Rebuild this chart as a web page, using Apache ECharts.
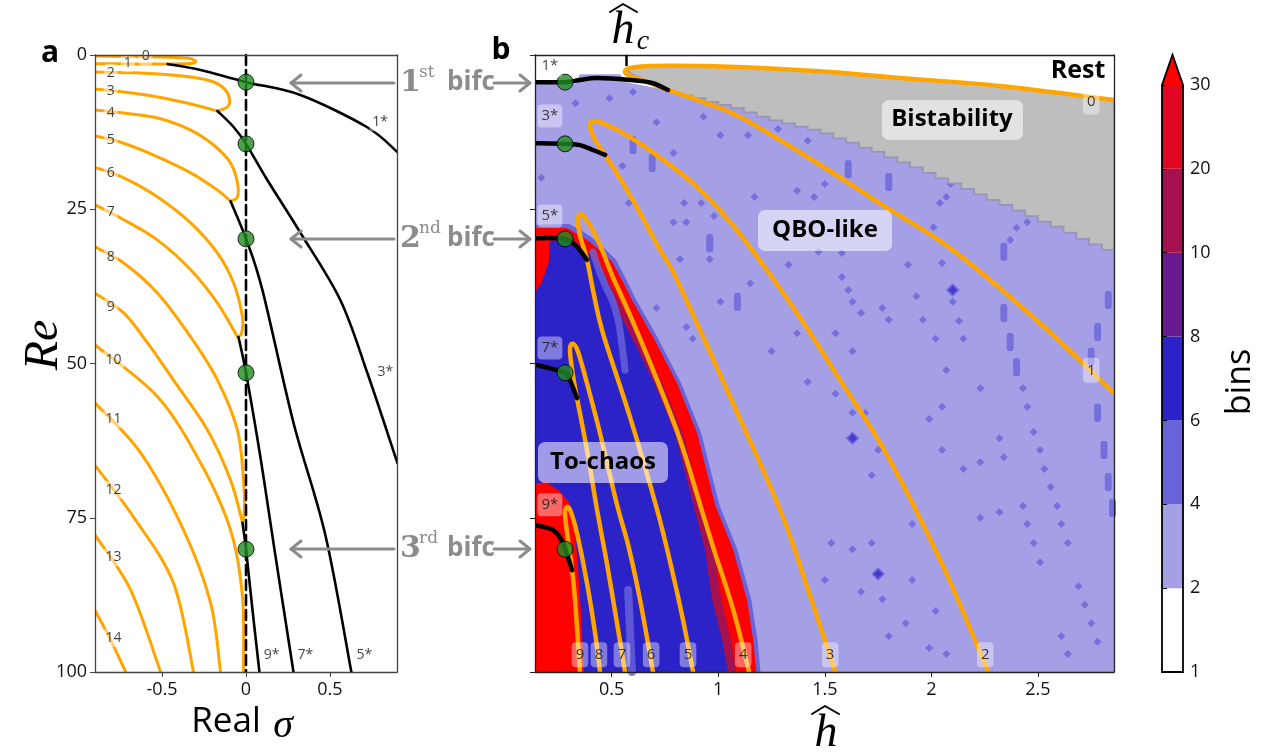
<!DOCTYPE html>
<html><head><meta charset="utf-8">
<script src="https://cdn.jsdelivr.net/npm/echarts@6/dist/echarts.min.js"></script>
<style>html,body{margin:0;padding:0;background:#fff}#c{width:1273px;height:754px}</style>
</head><body><div id="c"></div>
<script>
// ---------- ticks / levels ----------
const sigmaTicks = [-0.5, 0, 0.5];
const reTicks = [0, 25, 50, 75, 100];
const hTicks = [0.5, 1, 1.5, 2, 2.5];
const hCrit = 0.567;
const binLevels = ['1', '2', '4', '6', '8', '10', '20', '30'];
const binColors = ['#ffffff', '#a59fe6', '#6a64d9', '#2b22c8', '#681a90', '#a5114e', '#e00521'];
const binOver = '#ff0000';

// ---------- bifurcation points ----------
const bifRe = [4.4, 14.4, 29.8, 51.5, 80.1];
const bifH = 0.281;

// ---------- panel a : orange branches (Real sigma, Re) ----------
const aOrange0 = [[-0.9,0.16],[-0.568,0.32],[-0.36,0.49],[-0.312,0.81],[-0.301,1.13],[-0.33,1.38],[-0.467,1.46]];
const aOrange1 = [[-0.9,1.40],[-0.688,1.44],[-0.467,1.46]];
const aOrange2 = [[-0.9,2.76],[-0.628,2.92],[-0.33,3.57],[-0.193,4.38],[-0.122,5.67],[-0.098,7.29],[-0.11,8.43],[-0.17,9.08]];
const aOrange3 = [[-0.9,5.51],[-0.729,6.0],[-0.527,6.81],[-0.33,7.94],[-0.17,9.08]];
const aOrange4 = [[-0.9,8.91],[-0.729,9.40],[-0.527,10.21],[-0.33,12.16],[-0.193,14.59],[-0.092,17.5],[-0.051,20.7],[-0.051,23.0],[-0.092,23.7]];
const aOrange5 = [[-0.9,13.1],[-0.729,14.3],[-0.527,16.5],[-0.33,19.1],[-0.17,21.9],[-0.092,23.7]];
const aOrange6 = [[-0.9,18.2],[-0.729,19.9],[-0.527,23.0],[-0.33,27.2],[-0.17,32.1],[-0.074,36.95],[-0.021,42.5],[-0.027,45.1],[-0.051,45.7]];
const aOrange7 = [[-0.9,24.3],[-0.729,26.7],[-0.527,30.0],[-0.33,34.8],[-0.17,40.2],[-0.051,45.7]];
const aOrange8 = [[-0.9,31.1],[-0.729,33.7],[-0.527,38.6],[-0.33,45.7],[-0.17,52.7],[-0.051,60.8],[-0.015,68.9],[-0.009,73.7],[-0.021,75.8]];
const aOrange9 = [[-0.9,38.6],[-0.729,41.8],[-0.586,46.7],[-0.432,52.7],[-0.229,60.8],[-0.092,68.9],[-0.021,75.8]];
const aOrange10 = [[-0.9,47.0],[-0.527,55.4],[-0.271,66.1],[-0.092,77.0],[-0.021,87.8],[-0.015,100]];
const aOrange11 = [[-0.9,56.4],[-0.628,64.5],[-0.372,77.0],[-0.211,88.8],[-0.152,100]];
const aOrange12 = [[-0.9,66.5],[-0.67,74.9],[-0.432,85.6],[-0.313,100]];
const aOrange13 = [[-0.9,77.8],[-0.688,86.7],[-0.509,100]];
const aOrange14 = [[-0.9,90.0],[-0.807,94.8],[-0.717,100]];

// ---------- panel a : black branches ----------
const aBlack1 = [[-0.467,1.46],[-0.271,2.43],[0,4.4],[0.324,6.48],[0.72,11.67],[0.902,15.72]];
const aBlack3 = [[-0.17,9.08],[-0.074,11.67],[0,14.4],[0.128,20.3],[0.324,28.8],[0.562,39.7],[0.723,51.5],[0.902,66.1]];
const aBlack5 = [[-0.092,23.7],[0,29.8],[0.098,38.1],[0.283,59.6],[0.473,77.8],[0.628,100]];
const aBlack7 = [[-0.045,45.7],[0,51.5],[0.086,65.2],[0.17,80.2],[0.283,100]];
const aBlack9 = [[-0.021,75.8],[0,80.1],[0.039,90.0],[0.08,100]];

// ---------- panel b : orange branches (h, Re) ----------
const bOrange01 = [[2.858,7.29],[2.323,5.02],[1.854,3.73],[1.525,2.76],[1.196,2.11],[0.915,1.78],[0.68,1.78],[0.586,2.11],[0.563,2.6],[0.577,3.24],[0.656,4.2],[0.764,5.67],[0.915,7.46],[1.103,10.05],[1.464,17.5],[1.76,24.1],[2.088,31.3],[2.478,42.5],[2.858,54.8]];
const bOrange23 = [[2.267,100],[2.088,85.4],[1.915,72.9],[1.76,62.9],[1.572,52.7],[1.384,42.6],[1.21,34.0],[1.056,27.1],[0.901,21.4],[0.741,17.0],[0.586,13.3],[0.469,11.2],[0.417,10.7],[0.398,11.5],[0.422,13.8],[0.469,16.2],[0.586,22.7],[0.727,31.6],[0.807,36.5],[1.041,54.3],[1.29,73.7],[1.422,86.7],[1.549,100]];
const bOrange45 = [[1.145,100],[1.07,89.9],[0.98,80.2],[0.915,72.9],[0.821,62.4],[0.713,52.7],[0.595,42.9],[0.502,35.7],[0.445,30.8],[0.398,27.6],[0.361,25.9],[0.342,26.4],[0.351,29.2],[0.384,33.2],[0.417,38.9],[0.459,45.1],[0.586,58.7],[0.713,73.7],[0.783,83.5],[0.835,91.6],[0.882,100]];
const bOrange67 = [[0.694,100],[0.633,88.3],[0.577,79.4],[0.525,72.9],[0.445,61.3],[0.384,53.2],[0.342,48.1],[0.318,46.8],[0.304,47.8],[0.318,51.9],[0.337,55.6],[0.384,64.0],[0.431,73.7],[0.483,83.5],[0.563,100]];
const bOrange89 = [[0.445,100],[0.422,93.7],[0.384,85.6],[0.337,77.5],[0.304,73.7],[0.286,73.4],[0.281,74.6],[0.295,78.6],[0.314,83.5],[0.328,88.3],[0.351,100]];

// ---------- panel b : black branches ----------
const bBlack1 = [[0.14,4.4],[0.281,4.4],[0.351,4.05],[0.431,3.73],[0.586,4.05],[0.689,4.54],[0.764,5.67]];
const bBlack3 = [[0.14,14.3],[0.281,14.4],[0.351,14.6],[0.412,15.4],[0.469,16.2]];
const bBlack5 = [[0.14,29.7],[0.281,29.8],[0.337,31.1],[0.384,33.2]];
const bBlack7 = [[0.14,50.2],[0.281,51.5],[0.304,52.7],[0.337,55.6]];
const bBlack9 = [[0.14,76.2],[0.225,77.0],[0.271,79.1],[0.314,83.5]];

// ---------- panel b : filled regions (boundaries) ----------
const regionQbo = [[0.14,4.7],[0.328,4.7],[0.351,3.1],[0.539,3.1],[0.567,4.4],[0.764,5.7],[2.858,7.6],[2.858,100],[0.14,100]];
const bistableTop = [[0.572,2.43],[0.633,1.94],[0.915,1.78],[1.196,2.11],[1.525,2.76],[1.854,3.73],[2.323,5.02],[2.858,7.29]];
const bistableEdge = [[2.858,31.6],[2.80,30.7],[2.74,29.8],[2.68,28.8],[2.62,27.8],[2.56,27.0],[2.50,26.1],[2.44,25.2],[2.38,24.3],[2.32,23.5],[2.26,22.6],[2.20,21.7],[2.14,20.8],[2.08,20.0],[2.02,19.1],[1.96,18.2],[1.90,17.4],[1.84,16.6],[1.78,15.7],[1.72,15.0],[1.66,14.2],[1.60,13.5],[1.54,12.7],[1.48,12.1],[1.42,11.6],[1.36,11.1],[1.30,10.6],[1.24,10.0],[1.18,9.3],[1.12,8.6],[1.06,8.1],[1.00,7.6],[0.94,7.0],[0.88,6.6],[0.82,6.1],[0.78,5.8]];
const bistableTip = [[0.764,5.67],[0.656,4.05],[0.586,2.92]];
const chaosFringe = [[0.14,27.5],[0.30,27.4],[0.35,28.3],[0.40,29.4],[0.45,30.8],[0.52,33.2],[0.565,36.2],[0.612,39.5],[0.712,45.6],[0.826,53.2],[0.92,61.3],[1.005,72.9],[1.09,80.2],[1.155,88.3],[1.184,94.8],[1.198,100],[0.14,100]];
const chaosOuter = [[0.14,28.04],[0.29,28.04],[0.337,29.0],[0.384,29.98],[0.431,31.28],[0.502,33.55],[0.548,36.47],[0.595,39.7],[0.694,45.7],[0.807,53.2],[0.901,61.3],[0.985,72.9],[1.07,80.2],[1.135,88.3],[1.164,94.8],[1.178,100],[0.14,100]];
const chaosMid = [[0.14,29.6],[0.29,29.5],[0.35,30.6],[0.41,32.6],[0.465,35.2],[0.51,38.2],[0.575,42.4],[0.645,46.8],[0.74,53.4],[0.835,61.3],[0.915,72.3],[0.98,80.2],[1.015,88.3],[1.06,94.8],[1.085,100],[0.14,100]];
const chaosInner = [[0.14,30.3],[0.281,29.98],[0.35,31.0],[0.41,33.0],[0.455,35.5],[0.49,38.0],[0.545,42.6],[0.612,47.0],[0.703,53.5],[0.797,61.3],[0.877,72.1],[0.938,80.2],[0.971,88.3],[1.018,94.8],[1.046,100],[0.14,100]];
const redTopLeft = [[0.14,29.0],[0.21,29.5],[0.205,33.5],[0.17,37.0],[0.14,38.5]];
const redBottomLeft = [[0.14,69.5],[0.19,69.2],[0.25,70.5],[0.30,72.5],[0.32,75],[0.34,82],[0.355,90],[0.37,100],[0.14,100]];
const lightStripeA = [[0.412,31.9],[0.431,34.0],[0.469,37.3],[0.502,39.7],[0.53,42.9],[0.548,47.0],[0.563,51.1]];
const lightStripeB = [[0.577,86.7],[0.595,100]];

// ---------- panel b : isolated cells ----------
const bDots = [
[0.60,6.0],[0.49,7.0],[0.33,7.8],[0.71,10.9],[0.93,10.0],[1.01,13.0],[1.14,13.0],[1.28,12.0],[1.42,13.9],[1.50,20.9],
[1.37,22.0],[1.45,23.0],[1.17,23.0],[0.79,15.9],[0.55,18.0],[0.58,24.0],[0.84,24.0],[0.92,24.0],[0.98,26.1],[0.79,27.1],
[0.85,27.1],[0.82,33.1],[0.96,33.1],[0.17,19.9],[1.33,34.0],[1.47,31.9],[2.09,20.9],[2.07,23.0],[2.04,24.0],[2.45,27.1],
[2.40,28.0],[2.37,30.0],[2.01,27.9],[1.58,32.1],[1.89,34.0],[1.15,37.0],[1.01,40.0],[1.58,36.0],[1.61,38.1],[1.63,40.0],
[1.67,41.8],[1.77,41.0],[1.80,42.9],[0.71,41.0],[0.85,44.1],[0.88,46.0],[1.37,45.1],[1.55,45.1],[1.25,48.0],[1.63,48.0],
[1.42,53.0],[1.55,54.9],[1.63,58.0],[1.69,58.0],[1.75,64.0],[1.72,68.1],[2.05,33.7],[1.93,39.1],[2.10,40.0],
[1.96,42.9],[2.13,43.1],[2.02,46.0],[2.15,46.0],[2.07,51.1],[2.23,54.0],[2.43,54.0],[2.05,57.0],[2.45,57.0],[1.99,59.0],
[2.48,61.1],[2.32,62.1],[2.51,64.0],[2.05,64.0],[2.34,65.2],[2.15,67.1],[2.23,66.0],[2.53,67.1],[2.56,70.0],[2.23,75.0],
[2.32,74.1],[2.43,73.1],[2.59,73.1],[1.91,76.0],[2.45,76.0],[2.61,76.0],[2.48,79.1],[2.64,79.1],[2.51,82.2],[1.91,85.1],
[2.69,86.1],[2.02,90.1],[2.72,89.1],[1.88,92.1],[2.75,92.1],[1.99,96.1],[2.07,97.1],[2.61,94.2],[2.64,97.1],[2.78,95.1],
[1.53,79.1],[1.63,80.1],[1.72,79.1],[1.50,85.1],[1.67,87.0],[1.77,88.2],[1.80,94.2]
];
const bBlobs = [[0.60,14.6],[0.69,17.5],[0.96,30.5],[1.61,18.5],[1.80,20.6],[2.34,31.9],[1.09,40.0],[2.34,41.8],[2.37,46.5],[2.40,50.6],[2.78,44.9],[2.75,48.9],[2.78,58.0],[2.81,64.0],[2.83,69.2],[2.85,73.4],[2.83,39.7]];
const bDark = [[1.63,62.1],[1.75,84.1],[2.10,38.1]];

// ---------- curve labels ----------
const aCurveLabels = [[-0.598,0.2,'0'],[-0.705,1.3,'1'],[-0.806,2.9,'2'],[-0.806,5.8,'3'],[-0.806,9.4,'4'],[-0.806,13.8,'5'],[-0.806,19.1,'6'],[-0.806,25.4,'7'],[-0.806,32.7,'8'],[-0.806,40.8,'9'],[-0.789,49.4,'10'],[-0.789,59.0,'11'],[-0.789,70.5,'12'],[-0.789,81.4,'13'],[-0.789,94.5,'14']];
const aStarLabels = [[0.80,10.9,'1*'],[0.83,51.4,'3*'],[0.152,97.2,'9*'],[0.354,97.2,'7*'],[0.705,97.2,'5*']];
const bCurveLabels = [[0.351,97.2,'9'],[0.44,97.2,'8'],[0.548,97.2,'7'],[0.685,97.2,'6'],[0.858,97.2,'5'],[1.117,97.2,'4'],[1.525,97.2,'3'],[2.253,97.2,'2'],[2.75,51.1,'1'],[2.75,7.6,'0']];
const bStarLabels = [[0.21,1.8,'1*'],[0.21,9.9,'3*'],[0.21,26.1,'5*'],[0.21,47.5,'7*'],[0.21,72.9,'9*']];

// ---------- helpers ----------
const FONT = 'Open Sans';
const ORANGE = '#ffa500';
const GRAY = '#8c8c8c';
const A = {xAxisIndex: 0, yAxisIndex: 0};
const B = {xAxisIndex: 1, yAxisIndex: 1};

// smooth curve through the points (Catmull-Rom drawn as cubic Beziers, in pixel space)
function crPath(P) {
  const f = function (v) { return v.toFixed(2); };
  let d = 'M' + f(P[0][0]) + ' ' + f(P[0][1]);
  for (let i = 0; i < P.length - 1; i++) {
    const p0 = P[i - 1] || P[i], p1 = P[i], p2 = P[i + 1], p3 = P[i + 2] || P[i + 1];
    const c1x = p1[0] + (p2[0] - p0[0]) / 6, c1y = p1[1] + (p2[1] - p0[1]) / 6;
    const c2x = p2[0] - (p3[0] - p1[0]) / 6, c2y = p2[1] - (p3[1] - p1[1]) / 6;
    d += ' C' + f(c1x) + ' ' + f(c1y) + ' ' + f(c2x) + ' ' + f(c2y) + ' ' + f(p2[0]) + ' ' + f(p2[1]);
  }
  return d;
}
function curveS(ax, pts, color, width, z) {
  return Object.assign({type: 'custom', data: pts, z: z, silent: true, clip: true,
    renderItem: function (params, api) {
      if (params.dataIndex !== 0) return null;
      return {type: 'path', shape: {pathData: crPath(pts.map(function (p) { return api.coord(p); }))},
        style: {fill: 'none', stroke: color, lineWidth: width, lineCap: 'round', lineJoin: 'round'}};
    }}, ax);
}
function lineS(ax, pts, color, width, z, extra) {
  return Object.assign({type: 'line', data: pts, showSymbol: false, symbol: 'none', silent: true,
    clip: true, z: z, lineStyle: Object.assign({color: color, width: width, cap: 'round', join: 'round'}, extra || {})}, ax);
}
function polyS(ax, pts, fill, z, stroke, clip) {
  return Object.assign({type: 'custom', data: pts, z: z, silent: true, clip: clip !== false,
    renderItem: function (params, api) {
      if (params.dataIndex !== 0) return null;
      return {type: 'polygon', shape: {points: pts.map(function (p) { return api.coord(p); })},
        style: {fill: fill, stroke: stroke || null, lineWidth: stroke ? 1.8 : 0}};
    }}, ax);
}
function labelS(ax, pts, box, fontSize, z, pad) {
  return Object.assign({type: 'scatter', data: pts, symbolSize: 0, silent: true, z: z,
    label: {show: true, position: 'inside', formatter: function (p) { return p.data[2]; },
      fontSize: fontSize, color: '#111', fontFamily: FONT,
      backgroundColor: box, borderRadius: 4, padding: pad || [2, 3]}}, ax);
}
// staircase edge of the bistable contour (contour drawn on the grid cells)
function stairs(pts) {
  const out = [];
  pts.forEach(function (p, i) {
    if (i > 0) out.push([p[0], pts[i - 1][1]]);
    out.push(p);
  });
  return out;
}
const regionBistable = bistableTop.concat(stairs(bistableEdge), bistableTip);

const series = [];
// panel a
[aOrange0,aOrange1,aOrange2,aOrange3,aOrange4,aOrange5,aOrange6,aOrange7,aOrange8,aOrange9,aOrange10,aOrange11,aOrange12,aOrange13,aOrange14]
  .forEach(function (c) { series.push(curveS(A, c, ORANGE, 3, 10)); });
series.push(lineS(A, [[0, 0], [0, 100]], '#000', 2.6, 11, {type: [10, 5]}));
[aBlack1, aBlack3, aBlack5, aBlack7, aBlack9].forEach(function (c) { series.push(curveS(A, c, '#000', 2.6, 12)); });
series.push(Object.assign({type: 'scatter', data: bifRe.map(function (r) { return [0, r]; }), symbolSize: 16, z: 13, silent: true,
  itemStyle: {color: '#228b22', borderColor: '#000', borderWidth: 1}}, A));
series.push(labelS(A, aCurveLabels, 'rgba(255,255,255,0.6)', 14, 14));
series.push(labelS(A, aStarLabels, 'rgba(255,255,255,0.6)', 14, 14));

// panel b regions
series.push(polyS(B, regionQbo, binColors[1], 1));
series.push(polyS(B, chaosFringe, binColors[2], 2));
series.push(polyS(B, chaosOuter, binOver, 2));
series.push(polyS(B, chaosMid, binColors[5], 2));
series.push(polyS(B, chaosInner, binColors[3], 3));
series.push(curveS(B, lightStripeA, 'rgba(106,100,217,0.8)', 7, 3));
series.push(lineS(B, lightStripeB, binColors[2], 8, 3, {opacity: 0.8}));
series.push(polyS(B, redTopLeft, binOver, 3));
series.push(polyS(B, redBottomLeft, binOver, 3));
series.push(Object.assign({type: 'scatter', data: bDots, symbol: 'diamond', symbolSize: 8, z: 4, silent: true,
  itemStyle: {color: binColors[2]}}, B));
series.push(Object.assign({type: 'scatter', data: bBlobs, symbol: 'roundRect', symbolSize: [7, 18], z: 4, silent: true,
  itemStyle: {color: binColors[2]}}, B));
series.push(Object.assign({type: 'scatter', data: bDark, symbol: 'diamond', symbolSize: 11, z: 4, silent: true,
  itemStyle: {color: binColors[3], borderColor: binColors[2], borderWidth: 2}}, B));
series.push(polyS(B, regionBistable, '#bebebe', 6, '#9896b4'));
[bOrange01, bOrange23, bOrange45, bOrange67, bOrange89].forEach(function (c) { series.push(curveS(B, c, ORANGE, 4.5, 10)); });
[bBlack1, bBlack3, bBlack5, bBlack7, bBlack9].forEach(function (c) { series.push(curveS(B, c, '#000', 4.5, 12)); });
series.push(Object.assign({type: 'scatter', data: bifRe.map(function (r) { return [bifH, r]; }), symbolSize: 16, z: 13, silent: true,
  itemStyle: {color: '#228b22', borderColor: '#000', borderWidth: 1}}, B));
series.push(labelS(B, bCurveLabels, 'rgba(255,255,255,0.5)', 15, 14, [5, 4]));
series.push(labelS(B, bStarLabels, 'rgba(255,255,255,0.5)', 15, 14, [4, 4]));

// colorbar
series.push({type: 'custom', xAxisIndex: 4, yAxisIndex: 4, data: binColors.map(function (c, i) { return [0, i]; }), z: 2, silent: true,
  renderItem: function (params, api) {
    const i = params.dataIndex;
    const p1 = api.coord([0, i]), p2 = api.coord([1, i + 1]);
    return {type: 'rect', shape: {x: p1[0], y: p2[1], width: p2[0] - p1[0], height: p1[1] - p2[1]}, style: {fill: binColors[i]}};
  }});
series.push(polyS({xAxisIndex: 4, yAxisIndex: 4}, [[0, 7], [1, 7], [0.5, 7.36]], binOver, 3, null, false));
series.push(polyS({xAxisIndex: 4, yAxisIndex: 4}, [[0, 0], [1, 0], [1, 7], [0.5, 7.36], [0, 7]], 'none', 4, '#000', false));

// ---------- axes ----------
const axisBase = {type: 'value', z: 50, splitLine: {show: false}};
function axLine(c) { return {show: true, onZero: false, lineStyle: {color: c, width: 1.3}}; }
const tickFont = {fontSize: 18, color: '#111', fontFamily: FONT};

const option = {
  animation: false,
  backgroundColor: '#fff',
  textStyle: {fontFamily: FONT},
  grid: [
    {left: 95, top: 55, width: 302, height: 617},
    {left: 535, top: 55, width: 579, height: 617},
    {left: 1162, top: 85, width: 21, height: 587}
  ],
  xAxis: [
    Object.assign({}, axisBase, {gridIndex: 0, min: -0.9, max: 0.9, axisLine: axLine('#444'),
      axisTick: {show: true, customValues: sigmaTicks, length: 5, lineStyle: {color: '#444'}},
      axisLabel: Object.assign({customValues: sigmaTicks, margin: 9}, tickFont)}),
    Object.assign({}, axisBase, {gridIndex: 1, min: 0.14, max: 2.857, axisLine: axLine('#222'),
      axisTick: {show: true, customValues: hTicks, length: 5, lineStyle: {color: '#222'}},
      axisLabel: Object.assign({customValues: hTicks, margin: 9}, tickFont)}),
    Object.assign({}, axisBase, {gridIndex: 1, position: 'top', min: 0.14, max: 2.857, axisLine: axLine('#222'),
      axisTick: {show: true, customValues: [hCrit], inside: true, length: 11, lineStyle: {color: '#000', width: 2.5}},
      axisLabel: {show: false}}),
    Object.assign({}, axisBase, {gridIndex: 0, position: 'top', min: -0.9, max: 0.9, axisLine: axLine('#444'),
      axisTick: {show: false}, axisLabel: {show: false}}),
    Object.assign({}, axisBase, {gridIndex: 2, min: 0, max: 1, show: false})
  ],
  yAxis: [
    Object.assign({}, axisBase, {gridIndex: 0, inverse: true, min: 0, max: 100, interval: 25, axisLine: axLine('#444'),
      axisTick: {show: true, customValues: reTicks, length: 5, lineStyle: {color: '#444'}},
      axisLabel: Object.assign({customValues: reTicks, margin: 8}, tickFont)}),
    Object.assign({}, axisBase, {gridIndex: 1, inverse: true, min: 0, max: 100, interval: 25, axisLine: axLine('#222'),
      axisTick: {show: true, customValues: reTicks, length: 5, lineStyle: {color: '#222'}}, axisLabel: {show: false}}),
    Object.assign({}, axisBase, {gridIndex: 0, position: 'right', inverse: true, min: 0, max: 100, axisLine: axLine('#444'),
      axisTick: {show: false}, axisLabel: {show: false}}),
    Object.assign({}, axisBase, {gridIndex: 1, position: 'right', inverse: true, min: 0, max: 100, axisLine: axLine('#222'),
      axisTick: {show: false}, axisLabel: {show: false}}),
    Object.assign({}, axisBase, {gridIndex: 2, position: 'right', min: 0, max: 7, axisLine: {show: false},
      axisTick: {show: true, customValues: [0,1,2,3,4,5,6,7], length: 5, lineStyle: {color: '#000'}},
      axisLabel: Object.assign({customValues: [0,1,2,3,4,5,6,7], margin: 7,
        formatter: function (v) { return binLevels[Math.round(v)]; }}, tickFont)})
  ],
  series: series,
  graphic: []
};

// ---------- annotations ----------
function txt(text, x, y, font, fill, opts) {
  return Object.assign({type: 'text', z: 100, x: x, y: y,
    style: {text: text, x: 0, y: 0, font: font, fill: fill, align: 'center', verticalAlign: 'middle',
      textAlign: 'center', textVerticalAlign: 'middle'}}, opts || {});
}
function ltxt(text, x, y, font, fill) {
  const t = txt(text, x, y, font, fill);
  t.style.align = 'left'; t.style.textAlign = 'left';
  return t;
}
function pline(pts, color, w) {
  return {type: 'polyline', z: 100, shape: {points: pts}, style: {stroke: color, lineWidth: w, fill: null, lineCap: 'round', lineJoin: 'round'}};
}
function box(x, y, w, h) {
  return {type: 'rect', z: 90, shape: {x: x, y: y, width: w, height: h, r: 7}, style: {fill: 'rgba(255,255,255,0.55)'}};
}
const G = option.graphic;
G.push(txt('a', 50, 53, 'bold 30px ' + FONT, '#000'));
G.push(txt('b', 501, 50, 'bold 30px ' + FONT, '#000'));
// axis titles
G.push(txt('Re', 44, 345, 'italic 48px "Liberation Serif"', '#000', {rotation: Math.PI / 2}));
G.push(txt('Real', 226, 722, '35px ' + FONT, '#000'));
G.push(txt('σ', 283, 726, 'italic 40px "Liberation Serif"', '#000'));
G.push(txt('h', 826, 734, 'italic 46px "Liberation Serif"', '#000'));
G.push(pline([[812, 714], [825, 706], [839, 714]], '#000', 2));
G.push(txt('h', 623, 31, 'italic 46px "Liberation Serif"', '#000'));
G.push(txt('c', 643, 42, 'italic 28px "Liberation Serif"', '#000'));
G.push(pline([[610, 12], [623, 4], [637, 12]], '#000', 2));
G.push(txt('bins', 1240, 382, '34px ' + FONT, '#000', {rotation: Math.PI / 2}));
// bifurcation arrows
[[83, '1', 'st'], [239, '2', 'nd'], [549, '3', 'rd']].forEach(function (r) {
  const y = r[0];
  G.push(pline([[394, y], [291, y]], GRAY, 3));
  G.push(pline([[301, y - 8], [291, y], [301, y + 8]], GRAY, 3));
  G.push(pline([[494, y], [530, y]], GRAY, 3));
  G.push(pline([[520, y - 8], [530, y], [520, y + 8]], GRAY, 3));
  G.push(ltxt(r[1], 400, y, 'bold 30px "DejaVu Serif"', GRAY));
  G.push(ltxt(r[2], 419, y - 10, '17px "DejaVu Serif"', GRAY));
  G.push(ltxt('bifc', 447, y, 'bold 26px ' + FONT, GRAY));
});
// region names
G.push(txt('Rest', 1078, 71, 'bold 25px ' + FONT, '#000'));
G.push(box(882, 100, 141, 40));
G.push(txt('Bistability', 952, 119, 'bold 24px ' + FONT, '#000'));
G.push(box(758, 210, 134, 41));
G.push(txt('QBO-like', 825, 230, 'bold 24px ' + FONT, '#000'));
G.push(box(538, 442, 130, 41));
G.push(txt('To-chaos', 603, 462, 'bold 24px ' + FONT, '#000'));

const chart = echarts.init(document.getElementById('c'), null, {renderer: 'canvas'});
chart.setOption(option);
</script>
</body></html>
